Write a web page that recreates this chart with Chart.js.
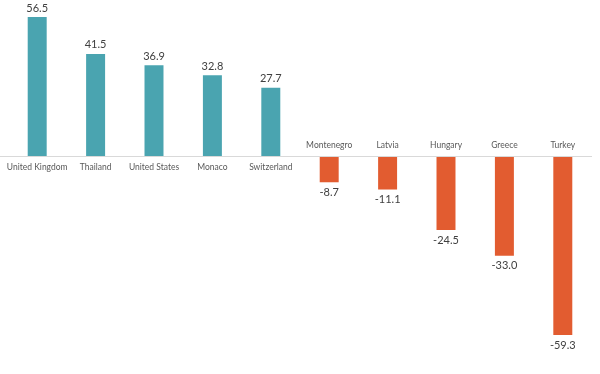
<!DOCTYPE html>
<html lang="en">
<head>
  <meta charset="UTF-8">
  <title>Change by country</title>
  <style>
    body { margin: 0; padding: 0; background: #fff; }
    .wrap { width: 600px; height: 374px; }
  </style>
</head>
<body>
  <div class="wrap"><canvas id="chart" width="600" height="374"></canvas></div>

  <script src="https://cdn.jsdelivr.net/npm/chart.js"></script>
  <script>
    // Data
    const countries = ['United Kingdom', 'Thailand', 'United States', 'Monaco', 'Switzerland',
                       'Montenegro', 'Latvia', 'Hungary', 'Greece', 'Turkey'];
    const values = [56.5, 41.5, 36.9, 32.8, 27.7, -8.7, -11.1, -24.5, -33.0, -59.3];

    const posColor = '#4aa4b0';
    const negColor = '#e25c30';

    const posData = values.map(v => v >= 0 ? v : null);
    const negData = values.map(v => v < 0 ? v : null);

    // zero line + category and value labels
    const labelPlugin = {
      id: 'labels',
      afterDatasetsDraw(chart) {
        const c = chart.ctx;
        const area = chart.chartArea;
        const y0 = chart.scales.y.getPixelForValue(0);
        c.save();
        c.strokeStyle = '#d9d9d9';
        c.lineWidth = 1;
        c.beginPath();
        c.moveTo(0, Math.round(y0) + 0.5);
        c.lineTo(area.right, Math.round(y0) + 0.5);
        c.stroke();

        c.textAlign = 'center';
        c.textBaseline = 'middle';
        chart.data.datasets.forEach((ds, di) => {
          chart.getDatasetMeta(di).data.forEach((bar, i) => {
            const v = ds.data[i];
            if (v === null) return;
            // category label on the other side of the zero line
            c.font = '8.5px Lato';
            c.fillStyle = '#595959';
            c.fillText(countries[i], bar.x, v >= 0 ? y0 + 11 : y0 - 11);
            // value label at the bar end
            c.font = '11px Lato';
            c.fillStyle = '#404040';
            c.fillText(v.toFixed(1), bar.x, v >= 0 ? bar.y - 9 : bar.y + 10);
          });
        });
        c.restore();
      }
    };

    const ctx = document.getElementById('chart').getContext('2d');
    new Chart(ctx, {
      type: 'bar',
      data: {
        labels: countries,
        datasets: [
          { data: posData, backgroundColor: posColor, yAxisID: 'y', grouped: false },
          { data: negData, backgroundColor: negColor, yAxisID: 'y2', grouped: false }
        ]
      },
      options: {
        responsive: false,
        animation: false,
        layout: { padding: { top: 10, bottom: 14, left: 8, right: 8 } },
        datasets: { bar: { categoryPercentage: 1, barPercentage: 0.325 } },
        plugins: { legend: { display: false }, tooltip: { enabled: false } },
        scales: {
          x: { display: false },
          // the two halves of the reference use different scales
          y: { display: false, min: -82.9, max: 59.35 },
          y2: { display: false, min: -67.55, max: 48.34 }
        }
      },
      plugins: [labelPlugin]
    });
  </script>
</body>
</html>
